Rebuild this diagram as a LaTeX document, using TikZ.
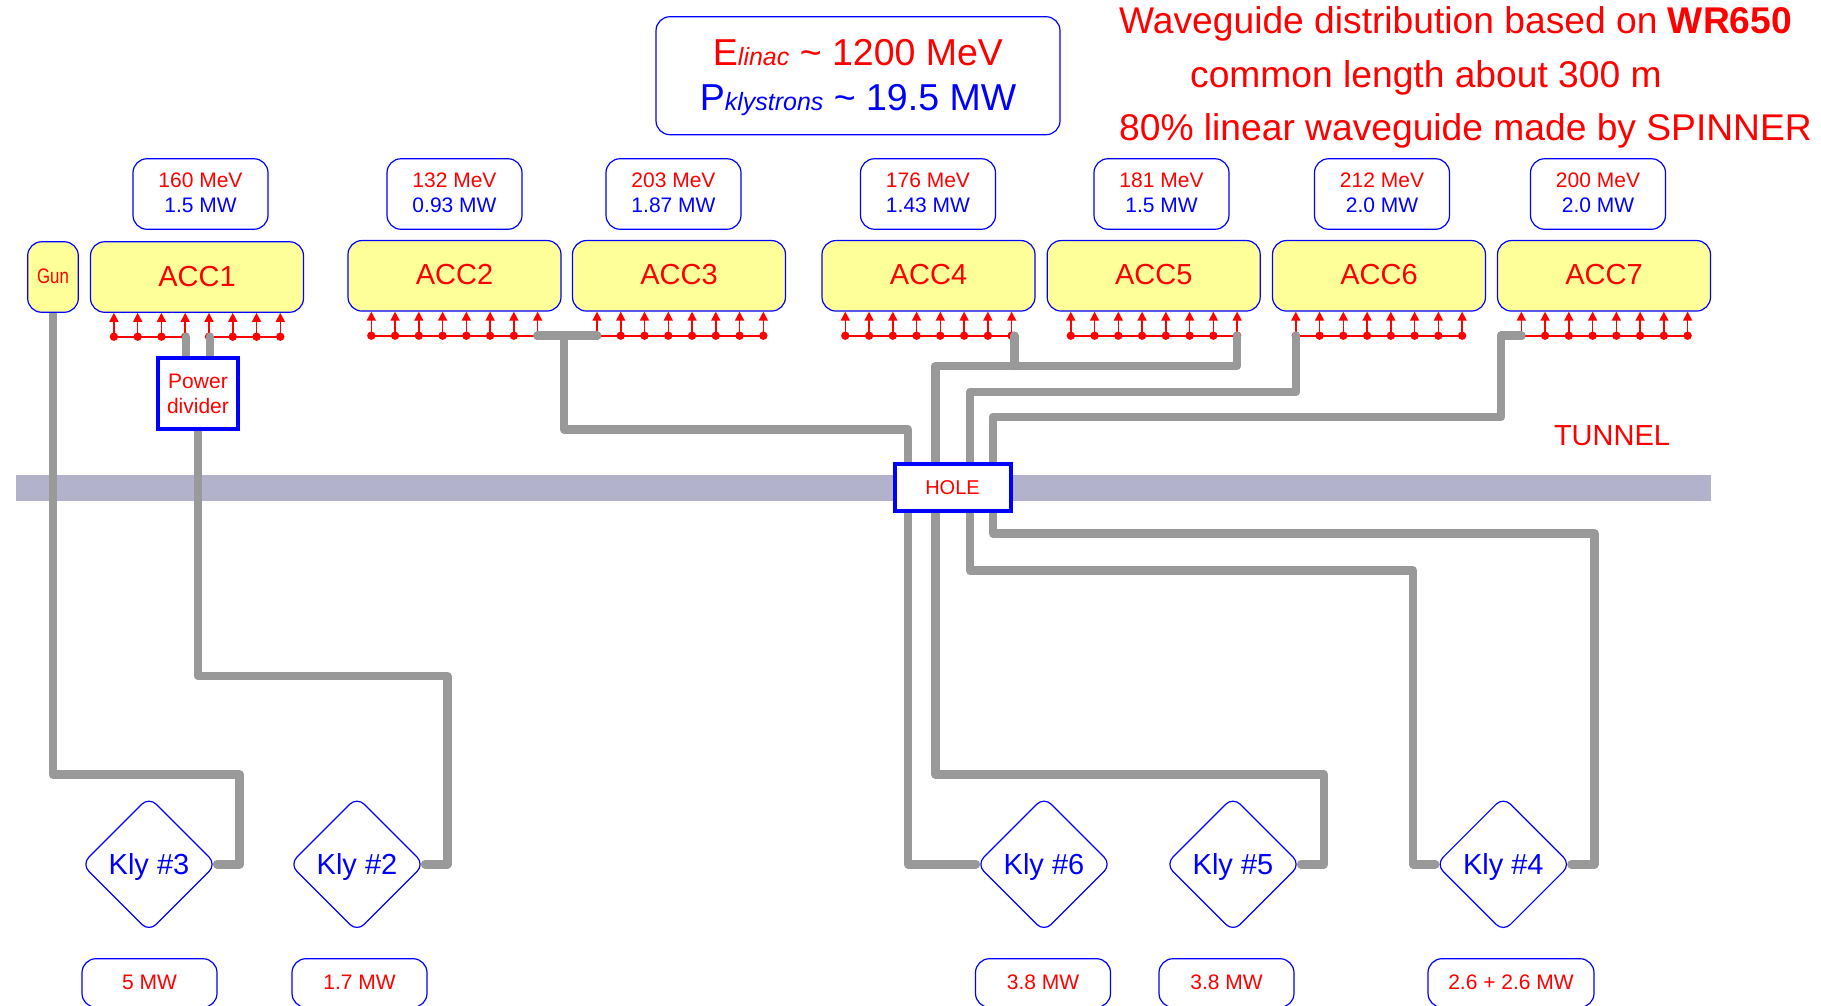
\documentclass[tikz,border=0pt]{standalone}
\usepackage{fontspec}
\setmainfont{Liberation Sans}
\usepackage{xcolor}
\usepackage{tikz}
\usetikzlibrary{arrows.meta,backgrounds,shapes.geometric}
\definecolor{accyellow}{HTML}{FFFF99}
\definecolor{wiregray}{HTML}{999999}
\definecolor{tunnelband}{HTML}{B2B2CC}
\newcommand{\sized}[1]{\fontsize{#1}{#1}\selectfont}
\tikzset{
  accbox/.style={draw=blue,fill=accyellow,line width=1.2pt,rounded corners=14pt,minimum width=213pt,minimum height=70.5pt,inner sep=0pt,text=red,text depth=2pt,font=\sized{29}},
  infobox/.style={draw=blue,fill=white,line width=1.2pt,rounded corners=14pt,minimum width=135pt,minimum height=70.5pt,inner sep=0pt,align=center,text=red,text depth=2pt,font=\fontsize{21}{25}\selectfont},
  powerbox/.style={infobox,minimum height=48.6pt},
  klybox/.style={draw=blue,fill=white,line width=1.2pt,shape=diamond,aspect=1,rounded corners=10pt,minimum size=135pt,inner sep=0pt,text=blue,text depth=1.5pt,font=\sized{29}},
  hardbox/.style={draw=blue,fill=white,line width=4pt,inner sep=0pt,align=center,text=red,font=\fontsize{21}{25}\selectfont},
  wire/.style={draw=wiregray,line width=8.5pt,line join=round,line cap=round},
  feed/.style={draw=red,line width=1.5pt,-{Triangle[length=9pt,width=9pt]}},
  redtext/.style={text=red,inner sep=0pt,font=\sized{37.2}},
}
\begin{document}
\begin{tikzpicture}[x=1pt,y=-1pt]
\newcommand{\drawfeeds}[4]{%
  \foreach \i in {1,...,#2} {
    \pgfmathsetmacro{\xpos}{#1+(\i-1)*23.76}
    \draw[feed] (\xpos,#3) -- (\xpos,#3 |- #4.south);
    \fill[red] (\xpos,#3) circle (4.2pt);
  }
  \pgfmathsetmacro{\xend}{#1+(#2-1)*23.76}
  \draw[red,line width=2pt] (#1,#3) -- (\xend,#3);
}
\useasboundingbox (0,0) rectangle (1821,1005);

\node[infobox,minimum width=404pt,minimum height=118pt,text depth=1pt,font=\fontsize{37.5}{45}\selectfont] (summary) at (858,75.7)
  {E{\sized{25}\itshape linac} \textasciitilde{} 1200 MeV\\\textcolor{blue}{P{\sized{25}\itshape klystrons} \textasciitilde{} 19.5 MW}};
\node[redtext,anchor=base west] (titleone) at (1119,33) {Waveguide distribution based on \textbf{WR650}};
\node[redtext,anchor=base west] (titletwo) at (1190,87) {common length about 300 m};
\node[redtext,anchor=base west] (titlethree) at (1119,140.7) {80\% linear waveguide made by SPINNER};

\node[infobox] (infoone) at (200.5,194) {160 MeV\\\textcolor{blue}{1.5 MW}};
\node[infobox] (infotwo) at (454.5,194) {132 MeV\\\textcolor{blue}{0.93 MW}};
\node[infobox] (infothree) at (673.5,194) {203 MeV\\\textcolor{blue}{1.87 MW}};
\node[infobox] (infofour) at (928,194) {176 MeV\\\textcolor{blue}{1.43 MW}};
\node[infobox] (infofive) at (1161.5,194) {181 MeV\\\textcolor{blue}{1.5 MW}};
\node[infobox] (infosix) at (1382,194) {212 MeV\\\textcolor{blue}{2.0 MW}};
\node[infobox] (infoseven) at (1598,194) {200 MeV\\\textcolor{blue}{2.0 MW}};

\node[accbox,minimum width=50.6pt,font=\sized{21}] (gun) at (53,277) {\scalebox{0.8}[1]{Gun}};
\node[accbox] (accone) at (197,277) {ACC1};
\node[accbox] (acctwo) at (454.5,275.8) {ACC2};
\node[accbox] (accthree) at (679,275.8) {ACC3};
\node[accbox] (accfour) at (928.5,275.8) {ACC4};
\node[accbox] (accfive) at (1153.7,275.8) {ACC5};
\node[accbox] (accsix) at (1379,275.8) {ACC6};
\node[accbox] (accseven) at (1604,275.8) {ACC7};

\node[hardbox,minimum width=80pt,minimum height=71pt] (divider) at (198,393.5) {Power\\divider};
\node[hardbox,minimum width=116pt,minimum height=47pt,font=\sized{20}] (hole) at (952.5,487.8) {HOLE};
\node[redtext,font=\sized{29}] (tunnel) at (1612,435.5) {TUNNEL};

\node[klybox] (klythree) at (149,864.3) {Kly \#3};
\node[klybox] (klytwo) at (357,864.3) {Kly \#2};
\node[klybox] (klysix) at (1044,864.3) {Kly \#6};
\node[klybox] (klyfive) at (1233,864.3) {Kly \#5};
\node[klybox] (klyfour) at (1503.3,864.3) {Kly \#4};

\node[powerbox] (powerthree) at (149.5,983) {5 MW};
\node[powerbox] (powertwo) at (359.5,983) {1.7 MW};
\node[powerbox] (powersix) at (1043,983) {3.8 MW};
\node[powerbox] (powerfive) at (1226.5,983) {3.8 MW};
\node[powerbox,minimum width=166pt] (powerfour) at (1511,983) {2.6 + 2.6 MW};

\begin{scope}[on background layer]
\fill[tunnelband] (16,475) rectangle (1710.6,500.7);
\drawfeeds{113.9}{4}{336.7}{accone}
\drawfeeds{209}{4}{336.7}{accone}
\drawfeeds{371.3}{8}{335.7}{acctwo}
\drawfeeds{597}{8}{335.7}{accthree}
\drawfeeds{845.3}{8}{335.7}{accfour}
\drawfeeds{1070.8}{8}{335.7}{accfive}
\drawfeeds{1295.8}{8}{335.7}{accsix}
\drawfeeds{1521.3}{8}{335.7}{accseven}

\coordinate (feedoneL) at (186,336.7);
\coordinate (feedoneR) at (210,336.7);
\coordinate (feedtwo) at (537.4,335.7);
\coordinate (feedthree) at (597,335.7);
\coordinate (feedtee) at (564,335.7);
\coordinate (feedfour) at (1014.7,335.7);
\coordinate (feedfive) at (1237,335.7);
\coordinate (feedsix) at (1295.8,335.7);
\coordinate (feedseven) at (1521.3,335.7);

\draw[wire] (gun.south) |- (239.7,774.7) |- (klythree.east);
\draw[wire] (divider.south) |- (447.3,676) |- (klytwo.east);
\draw[wire] (feedoneL) -- (feedoneL |- divider.north);
\draw[wire] (feedoneR) -- (feedoneR |- divider.north);
\draw[wire] (feedtwo) -- (feedthree);
\draw[wire] (feedtee) |- (908,429.5) |- (klysix.west);
\draw[wire] (feedfive) |- (935.6,366) |- (1324,774.5) |- (klyfive.east);
\draw[wire] (feedfour) -- (1014.7,366);
\draw[wire] (feedsix) |- (970,392) |- (1413,570.5) |- (klyfour.west);
\draw[wire] (feedseven) -- (1501,335.7) |- (992.8,417) |- (1594.5,533.5) |- (klyfour.east);
\end{scope}
\end{tikzpicture}
\end{document}
